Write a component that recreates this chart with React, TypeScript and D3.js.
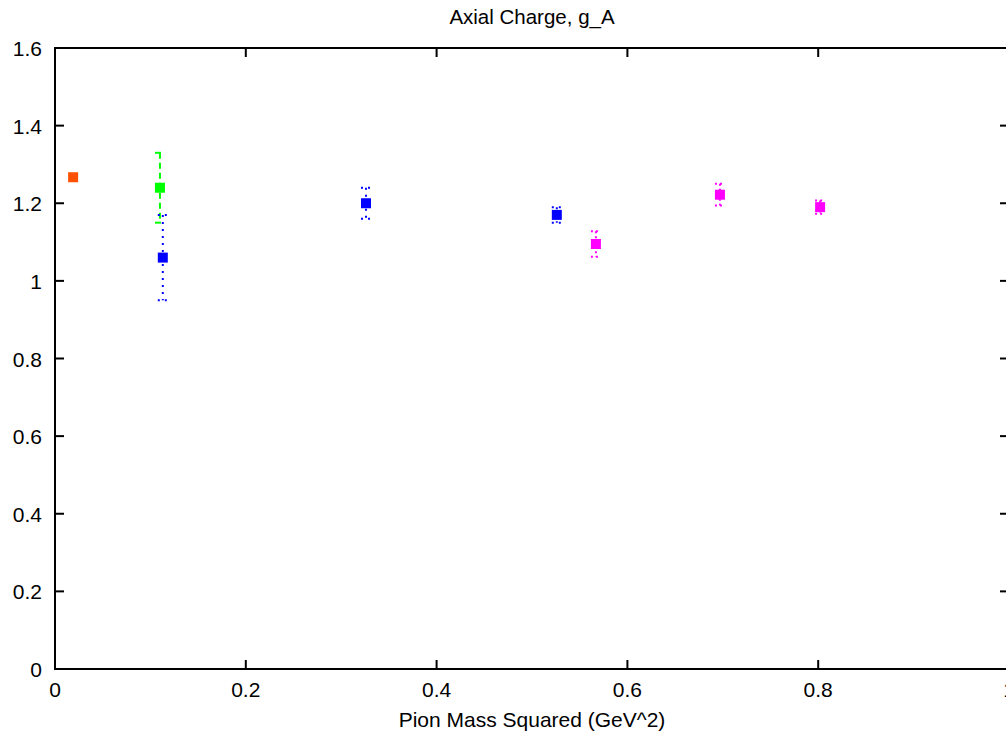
import React, { useEffect, useRef } from 'react';
import * as d3 from 'd3';

// pion mass squared (GeV^2), g_A, error
const orangeX = [0.019];
const orangeY = [1.267];

const greenX = [0.110];
const greenY = [1.24];
const greenErr = [0.09];

const blueX = [0.113, 0.326, 0.526];
const blueY = [1.06, 1.20, 1.17];
const blueErr = [0.11, 0.04, 0.02];

const magentaX = [0.567, 0.697, 0.802];
const magentaY = [1.095, 1.222, 1.19];
const magentaErr = [0.033, 0.028, 0.017];

const xTicks = [0, 0.2, 0.4, 0.6, 0.8, 1];
const yTicks = [0, 0.2, 0.4, 0.6, 0.8, 1, 1.2, 1.4, 1.6];

const App = () => {
  const ref = useRef<SVGSVGElement>(null);

  useEffect(() => {
    const svg = d3.select(ref.current);
    svg.selectAll('*').remove();

    const left = 55, right = 1009, top = 48, bottom = 669;
    const font = '"Liberation Sans", Arial, sans-serif';

    const x = d3.scaleLinear().domain([0, 1]).range([left, right]);
    const y = d3.scaleLinear().domain([0, 1.6]).range([bottom, top]);

    svg.append('rect').attr('width', 1006).attr('height', 736).attr('fill', '#fff');

    // frame
    svg.append('rect')
      .attr('x', left).attr('y', top)
      .attr('width', right - left).attr('height', bottom - top)
      .attr('fill', 'none').attr('stroke', '#000').attr('stroke-width', 2);

    const tl = 9;
    const g = svg.append('g').attr('stroke', '#000').attr('stroke-width', 2);
    xTicks.forEach(t => {
      g.append('line').attr('x1', x(t)).attr('x2', x(t)).attr('y1', bottom).attr('y2', bottom - tl);
      g.append('line').attr('x1', x(t)).attr('x2', x(t)).attr('y1', top).attr('y2', top + tl);
    });
    yTicks.forEach(t => {
      g.append('line').attr('x1', left).attr('x2', left + tl).attr('y1', y(t)).attr('y2', y(t));
      g.append('line').attr('x1', right).attr('x2', right - tl).attr('y1', y(t)).attr('y2', y(t));
    });

    const fmt = (v: number) => String(+v.toFixed(1));

    svg.append('g').selectAll('text').data(xTicks).enter().append('text')
      .attr('x', d => x(d)).attr('y', 697)
      .attr('text-anchor', 'middle')
      .attr('font-family', font).attr('font-size', 21)
      .text(d => fmt(d));

    svg.append('g').selectAll('text').data(yTicks).enter().append('text')
      .attr('x', 42).attr('y', d => y(d) + 8)
      .attr('text-anchor', 'end')
      .attr('font-family', font).attr('font-size', 21)
      .text(d => fmt(d));

    svg.append('text')
      .attr('x', 532).attr('y', 24).attr('text-anchor', 'middle')
      .attr('font-family', font).attr('font-size', 20.5)
      .text('Axial Charge, g_A');

    svg.append('text')
      .attr('x', 532).attr('y', 727).attr('text-anchor', 'middle')
      .attr('font-family', font).attr('font-size', 21)
      .text('Pion Mass Squared (GeV^2)');

    const series = [
      { xs: greenX, ys: greenY, es: greenErr, color: '#00ff00', dash: '6,4' },
      { xs: blueX, ys: blueY, es: blueErr, color: '#0000ff', dash: '2,5' },
      { xs: magentaX, ys: magentaY, es: magentaErr, color: '#ff00ff', dash: '2,3' },
    ];

    series.forEach(s => {
      const eg = svg.append('g').attr('stroke', s.color).attr('stroke-width', 2)
        .attr('stroke-dasharray', s.dash);
      s.xs.forEach((xv, i) => {
        const cx = x(xv);
        const y1 = y(s.ys[i] + s.es[i]);
        const y2 = y(s.ys[i] - s.es[i]);
        eg.append('line').attr('x1', cx).attr('x2', cx).attr('y1', y1).attr('y2', y2);
        eg.append('line').attr('x1', cx - 5).attr('x2', cx + 5).attr('y1', y1).attr('y2', y1);
        eg.append('line').attr('x1', cx - 5).attr('x2', cx + 5).attr('y1', y2).attr('y2', y2);
      });
      svg.append('g').selectAll('rect').data(s.xs).enter().append('rect')
        .attr('x', d => x(d) - 5).attr('y', (d, i) => y(s.ys[i]) - 5)
        .attr('width', 10).attr('height', 10).attr('fill', s.color);
    });

    svg.append('g').selectAll('rect').data(orangeX).enter().append('rect')
      .attr('x', d => x(d) - 5).attr('y', (d, i) => y(orangeY[i]) - 5)
      .attr('width', 10).attr('height', 10).attr('fill', '#ff5000');
  }, []);

  return (
    <svg ref={ref} width={1006} height={736}
      style={{ position: 'absolute', left: 0, top: 0, display: 'block' }} />
  );
};

export default App;
